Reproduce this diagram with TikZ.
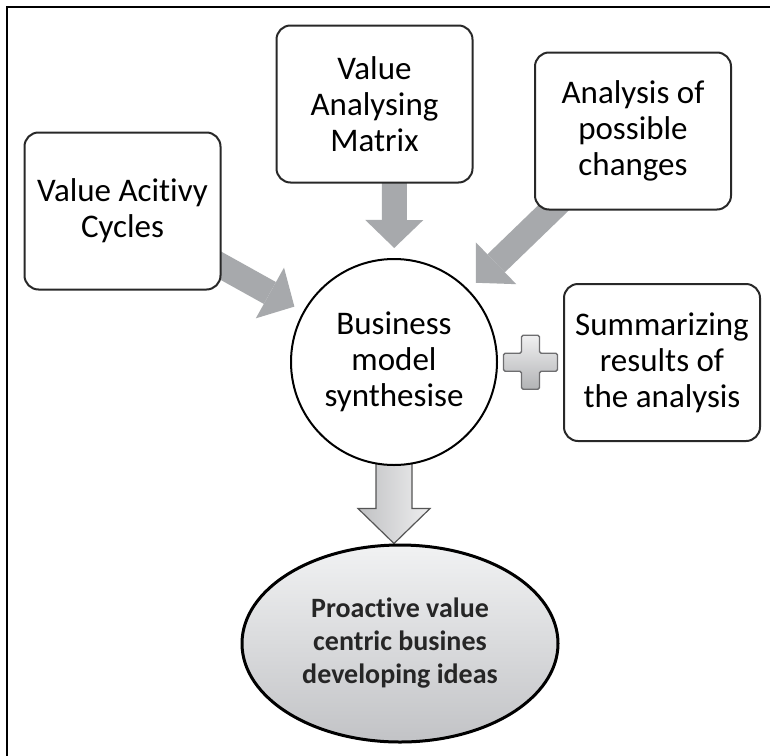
\documentclass[tikz,border=0pt]{standalone}
\usepackage{fontspec}
\setmainfont{Carlito}[Ligatures=NoCommon]
\usetikzlibrary{arrows.meta,shapes.geometric,calc,backgrounds}

\definecolor{feedgray}{RGB}{167,169,172}
\definecolor{boxline}{RGB}{40,40,40}
\definecolor{goaltop}{RGB}{241,242,243}
\definecolor{goalbot}{RGB}{194,195,198}
\definecolor{goalink}{RGB}{38,38,38}
\definecolor{downleft}{RGB}{192,193,195}
\definecolor{downright}{RGB}{238,238,239}
\definecolor{downline}{RGB}{85,85,85}
\definecolor{plustop}{RGB}{240,240,241}
\definecolor{plusbot}{RGB}{178,179,181}
\definecolor{plusline}{RGB}{110,110,112}

\begin{document}
\begin{tikzpicture}[x=0.5pt,y=-0.5pt,
  lbl/.style={font=\fontsize{16.5}{18}\selectfont, align=center, text=black},
  stepbox/.style={lbl, draw=boxline, line width=1pt, fill=white,
    rounded corners=7pt, minimum width=98pt, minimum height=78.5pt, inner sep=0pt},
  hub/.style={lbl, circle, draw=black, line width=1pt, fill=white,
    minimum size=103pt, inner sep=0pt},
  goal/.style={ellipse, draw=black, line width=1.5pt,
    top color=goaltop, bottom color=goalbot,
    minimum width=158pt, minimum height=98.5pt, inner sep=0pt,
    font=\fontsize{14}{16.5}\selectfont\bfseries, text=goalink, align=center},
  feed/.style={draw=feedgray, line width=12.5pt, line cap=butt,
    -{Triangle[width=29pt,length=14pt,line width=0pt]}, shorten >=5pt},
  flowdown/.style={draw=downline, line width=0.6pt, line join=miter,
    left color=downleft, right color=downright},
  plussign/.style={draw=plusline, line width=0.7pt,
    top color=plustop, bottom color=plusbot, rounded corners=0.8pt},
  frame/.style={draw=black, line width=1.2pt}
]

\useasboundingbox (0,0) rectangle (770,755);

% source boxes, hub and outcome
\node[stepbox] (vac) at (122.5,211) {Value Acitivy\\Cycles};
\node[stepbox] (vam) at (374.5,104) {Value\\Analysing\\Matrix};
\node[stepbox] (apc) at (633,131) {Analysis of\\possible\\changes};
\node[stepbox] (sum) at (662,362.5) {Summarizing\\results of\\the analysis};
\node[hub] (bms) at (394,362) {Business\\model\\synthesise};
\node[goal] (goal) at (400,643.5) {Proactive value\\centric busines\\developing ideas};

% plus sign between hub and summary box
\coordinate (pluspt) at ($(bms.east)!0.5!(sum.west)$);
\draw[plussign] ($(pluspt)+(-9,-27)$) -- ($(pluspt)+(9,-27)$) -- ($(pluspt)+(9,-9)$)
  -- ($(pluspt)+(27,-9)$) -- ($(pluspt)+(27,9)$) -- ($(pluspt)+(9,9)$)
  -- ($(pluspt)+(9,27)$) -- ($(pluspt)+(-9,27)$) -- ($(pluspt)+(-9,9)$)
  -- ($(pluspt)+(-27,9)$) -- ($(pluspt)+(-27,-9)$) -- ($(pluspt)+(-9,-9)$) -- cycle;

% outer frame (only top and left edges fall on the page)
\draw[frame] (7,770) -- (7,7) -- (790,7);

\begin{scope}[on background layer]
  \fill[white] (0,0) rectangle (770,755);
  % thick grey feeder arrows into the hub
  \draw[feed] (vac.center) -- (bms);
  \draw[feed] ([xshift=10]vam.center) -- (bms);
  \draw[feed] (apc.center) -- (bms);
  % block arrow from hub down to outcome
  \coordinate (tip) at (bms.south |- goal.north);
  \draw[flowdown] ($(bms.south)+(-18,-3)$) -- ($(tip)+(-18,-35)$) -- ($(tip)+(-36,-35)$)
    -- (tip) -- ($(tip)+(36,-35)$) -- ($(tip)+(18,-35)$) -- ($(bms.south)+(18,-3)$) -- cycle;
\end{scope}

\end{tikzpicture}
\end{document}
